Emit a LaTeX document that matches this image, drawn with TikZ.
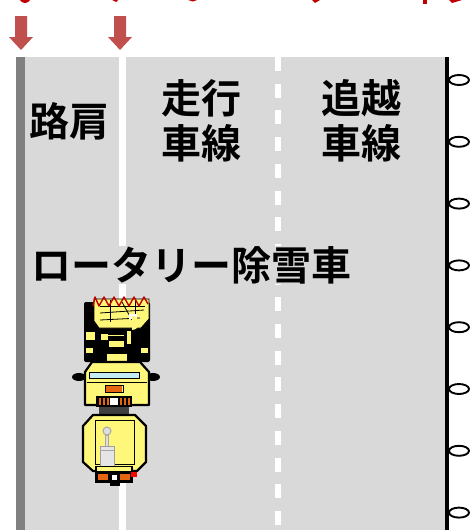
\documentclass[tikz,border=0pt]{standalone}
\usepackage{fontspec}
\setmainfont{Noto Sans CJK JP}[BoldFont={Noto Sans CJK JP Bold}]
\begin{document}
\begin{tikzpicture}[x=1pt,y=-1pt,
  lane/.style={font=\bfseries\fontsize{40}{45}\selectfont, align=center, inner sep=0pt},
  stud/.style={draw=black, line width=1.9pt, fill=white},
  arrowmark/.style={fill=arrowred, draw=none},
  body/.style={fill=truckyellow, draw=black, line width=2.2pt, line join=round},
  thin/.style={draw=black, line width=0.8pt}
]
\definecolor{road}{HTML}{D9D9D9}
\definecolor{shoulderedge}{HTML}{808080}
\definecolor{arrowred}{HTML}{C0504D}
\definecolor{labelred}{HTML}{C00000}
\definecolor{truckyellow}{HTML}{FFF77A}
\definecolor{glass}{HTML}{C4ECF4}
\definecolor{lamp}{HTML}{E8650F}
\useasboundingbox (0,0) rectangle (470,530);
\fill[white] (0,0) rectangle (470,530);

% fragments of red lettering above the top edge
\fill[labelred] (20,0) .. controls (22,4) and (28,4) .. (30,0) -- cycle;
\fill[labelred] (112,0) -- (118,0) -- (116,2) -- cycle;
\fill[labelred] (188,0) -- (197,0) -- (193,1.5) -- cycle;
\fill[labelred] (312,0) -- (320,0) -- (315,3) -- cycle;
\fill[labelred] (423,0) rectangle (427,4);
\fill[labelred] (449,0) -- (462,0) -- (452,3) -- cycle;

% road surface
\fill[road] (16,57) rectangle (445,530);
\fill[shoulderedge] (16,57) rectangle (25,530);
\fill[black] (445,57) rectangle (449,530);
% edge line of the driving lane and dashed lane divider
\coordinate (edgeTop) at (122.5,57);
\coordinate (edgeBot) at (122.5,530);
\draw[white, line width=7pt] (edgeTop) -- (edgeBot);
\coordinate (divTop) at (277.5,57);
\coordinate (divBot) at (277.5,530);
\draw[white, line width=6pt, dash pattern=on 14pt off 12.7pt] (divTop) -- (divBot);

% road studs along the outer edge
\foreach \i in {0,...,7}
  \draw[stud] (459,{80+61.8*\i}) ellipse (10pt and 5pt);

% downward arrows
\fill[arrowmark] (15,16) -- (27,16) -- (27,37) -- (33,37) -- (21,50) -- (9,37) -- (15,37) -- cycle;
\fill[arrowmark] (114,16) -- (126,16) -- (126,37) -- (132,37) -- (120,50) -- (108,37) -- (114,37) -- cycle;

% lane names
\node[lane] (shoulder) at (69,121) {路肩};
\node[lane] (driving) at (201,121) {走行\\車線};
\node[lane] (passing) at (361,121) {追越\\車線};

% rotary snowplow, seen from above
% blower housing and front frame
\fill[black, rounded corners=2pt] (84,302) rectangle (150,362);
\fill[truckyellow] (94,299) -- (149,299) -- (149,319) -- (141,328) -- (99,328) -- (94,321) -- cycle;
\draw[thin] (94,299) -- (149,299) -- (149,319) -- (141,328) -- (99,328) -- (94,321) -- cycle;
\draw[thin] (100,306) -- (145,306);
\draw[thin] (100,313) -- (144,310);
\draw[thin] (110,300) -- (110,322);
\draw[thin] (122,302) -- (132,320);
\draw[thin] (135,300) -- (135,318);
\draw[thin] (100,320) -- (140,318);
\fill[white] (129,314) rectangle (137,319);
% auger teeth
\draw[labelred, line width=1.4pt, line join=round]
  (93,306) -- (95,297) -- (99,306) -- (104,297) -- (109,306)
  -- (114,297) -- (119,306) -- (124,297) -- (129,306)
  -- (134,297) -- (139,306) -- (144,297) -- (148,304);
% engine deck pieces
\fill[truckyellow] (86,332) rectangle (95,340);
\fill[truckyellow] (101,334) rectangle (108,340);
\fill[truckyellow] (109,341) rectangle (124,347);
\draw[truckyellow, line width=0.8pt] (108,335) -- (124,335);
\fill[truckyellow] (132,330) arc[start angle=90, end angle=-90, radius=7] -- cycle;
\fill[truckyellow] (127,331) rectangle (131,344);
\fill[truckyellow] (86,348) rectangle (93,353);
\fill[truckyellow] (141,348) rectangle (148,353);
\fill[truckyellow] (107,354) rectangle (127,364);

% cab
\fill[black] (79,377) ellipse (7pt and 4pt);
\fill[black] (153,377) ellipse (7pt and 4pt);
\draw[body] (92,362) -- (140,362) -- (149,372) -- (149,405) -- (85,405) -- (85,372) -- cycle;
\draw[thin, fill=glass] (89,372) rectangle (139,378);
\draw[thin] (87,382) -- (147,382);
\fill[lamp] (106,385) rectangle (122,392);
\draw[thin] (105,385) rectangle (123,392);

% radiator grille and joint
\fill[black] (96,396) rectangle (132,407);
\foreach \x in {99,103,107,120,124,128}
  \fill[lamp] (\x,398) rectangle ({\x+2},405);
\fill[white] (110,398) rectangle (118,405);
\fill[black!75] (99,407) rectangle (129,415);

% rear body
\draw[body] (93,415) -- (135,415) -- (146,426) -- (146,462) -- (137,471) -- (93,471) -- (83,462) -- (83,426) -- cycle;
\draw[thin] (95,420) rectangle (134,464);
% engine unit in the rear body
\draw[draw=gray!70, fill=gray!25, line width=1pt] (107,431) circle (4pt);
\draw[draw=gray!70, fill=gray!25, line width=1pt] (105.5,435) rectangle (108.5,446);
\draw[draw=gray!75, fill=gray!20, line width=1pt] (100,446) rectangle (114,466);
\draw[gray!70, line width=0.6pt] (100,450) -- (114,450);

% rear bumper and lamps
\fill[black] (95,466) rectangle (133,483);
\fill[truckyellow] (97,467) rectangle (131,471);
\fill[lamp] (98,474) rectangle (108,480);
\fill[lamp] (120,474) rectangle (130,480);
\fill[red] (131,472) rectangle (137,477);
\fill[white] (112,475) rectangle (117,480);
\fill[black] (110,480) rectangle (120,486);

% vehicle label
\node[lane, fill=road] (plow) at (191.5,265) {ロータリー除雪車};
\end{tikzpicture}
\end{document}
